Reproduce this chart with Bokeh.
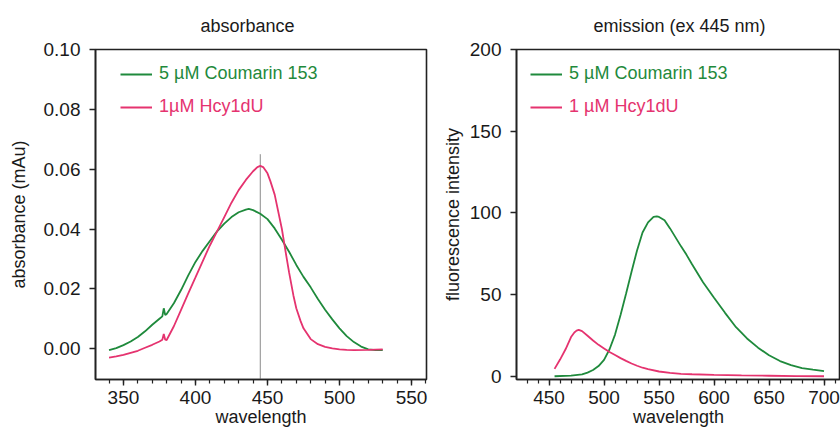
from bokeh.plotting import figure
from bokeh.layouts import row
from bokeh.models import FixedTicker, NumeralTickFormatter, Legend, LegendItem, Range1d, Title
from bokeh.embed import file_html
from bokeh.resources import INLINE

# ---------------- data ----------------
# absorbance panel
abs_c153_wl = [340, 345, 350, 355, 360, 365, 370, 375, 377, 378, 379, 380, 385, 390, 395,
               400, 405, 410, 415, 420, 425, 430, 435, 437, 440, 445, 450, 455, 460, 465,
               470, 475, 480, 485, 490, 495, 500, 505, 510, 515, 520, 525, 530]
abs_c153 = [-0.0005, 0.0002, 0.0012, 0.0024, 0.0039, 0.0058, 0.0080, 0.0100, 0.0108, 0.0135,
            0.0112, 0.0116, 0.0152, 0.0196, 0.0245, 0.0290, 0.0327, 0.0360, 0.0392, 0.0418,
            0.0440, 0.0456, 0.0465, 0.0467, 0.0463, 0.0451, 0.0433, 0.0402, 0.0364, 0.0324,
            0.0280, 0.0240, 0.0205, 0.0166, 0.0130, 0.0098, 0.0068, 0.0042, 0.0022, 0.0007,
            -0.0002, -0.0005, -0.0005]

abs_hcy_wl = [340, 345, 350, 355, 360, 365, 370, 375, 377, 378, 379, 380, 385, 390, 395,
              400, 405, 410, 415, 420, 425, 430, 435, 440, 443, 445, 447, 450, 452, 455,
              460, 463, 465, 468, 470, 473, 475, 480, 485, 490, 495, 500, 505, 510, 520, 530]
abs_hcy = [-0.0030, -0.0026, -0.0021, -0.0014, -0.0007, 0.0003, 0.0013, 0.0024, 0.0030, 0.0049,
           0.0030, 0.0029, 0.0075, 0.0130, 0.0185, 0.0238, 0.0292, 0.0345, 0.0392, 0.0440,
           0.0488, 0.0530, 0.0564, 0.0593, 0.0607, 0.0611, 0.0607, 0.0586, 0.0560, 0.0515,
           0.0400, 0.0312, 0.0255, 0.0178, 0.0135, 0.0092, 0.0068, 0.0032, 0.0015, 0.0006,
           0.0001, -0.0002, -0.0004, -0.0005, -0.0004, -0.0002]

excitation_wl = [445]
excitation_top = [0.065]

abs_x_ticks = [350, 400, 450, 500, 550]
abs_x_minor = [340, 350, 360, 370, 380, 390, 400, 410, 420, 430, 440, 450, 460, 470, 480,
               490, 500, 510, 520, 530, 540, 550, 560]
abs_y_ticks = [0.00, 0.02, 0.04, 0.06, 0.08, 0.10]

# emission panel
em_c153_wl = [455, 470, 480, 485, 490, 495, 500, 505, 510, 515, 520, 525, 530, 535, 540, 545,
              548, 550, 555, 560, 565, 570, 575, 580, 590, 600, 610, 620, 630, 640, 650, 660,
              670, 680, 690, 700]
em_c153 = [0.0, 0.4, 1.1, 2.2, 3.8, 6.2, 10.0, 16.5, 25.5, 37.5, 50.5, 64.0, 77.0, 88.0, 94.2,
           97.5, 97.8, 97.5, 95.5, 90.5, 85.0, 79.5, 74.3, 68.5, 57.5, 48.1, 38.8, 30.0, 23.1,
           17.5, 12.8, 9.3, 6.8, 5.0, 4.0, 3.1]

em_hcy_wl = [455, 460, 465, 470, 473, 475, 477, 480, 485, 490, 495, 500, 505, 510, 515, 520,
             525, 530, 535, 540, 550, 560, 570, 580, 600, 625, 650, 675, 700]
em_hcy = [4.5, 10.2, 16.5, 24.0, 26.8, 27.9, 28.4, 27.6, 24.8, 21.9, 19.2, 17.0, 14.8, 13.0,
          11.1, 9.4, 7.8, 6.4, 5.2, 4.3, 2.9, 2.0, 1.5, 1.2, 0.8, 0.5, 0.3, 0.1, 0.0]

em_x_ticks = [450, 500, 550, 600, 650, 700]
em_x_minor = [430, 440, 450, 460, 470, 480, 490, 500, 510, 520, 530, 540, 550, 560, 570, 580,
              590, 600, 610, 620, 630, 640, 650, 660, 670, 680, 690, 700, 710]
em_y_ticks = [0, 50, 100, 150, 200]

GREEN = "#1f8a3c"
PINK = "#e5336f"
FONT = "Liberation Sans"
FS = "18px"
TFS = "19px"
INK = "#1a1a1a"

FRAME_H = 330


def style(p):
    p.toolbar_location = None
    p.xgrid.visible = False
    p.ygrid.visible = False
    p.outline_line_color = "#222222"
    p.outline_line_width = 1.6
    p.background_fill_color = "white"
    p.border_fill_color = "white"
    for ax in (p.xaxis[0], p.yaxis[0]):
        ax.axis_line_color = "#222222"
        ax.axis_line_width = 1.6
        ax.major_tick_line_color = "#222222"
        ax.major_tick_line_width = 1.4
        ax.minor_tick_line_color = "#222222"
        ax.minor_tick_line_width = 1.2
        ax.major_tick_in = 0
        ax.minor_tick_in = 0
        ax.major_tick_out = 6
        ax.minor_tick_out = 4
        ax.major_label_text_font = FONT
        ax.major_label_text_font_size = TFS
        ax.major_label_text_color = INK
        ax.axis_label_text_font = FONT
        ax.axis_label_text_font_size = FS
        ax.axis_label_text_font_style = "normal"
        ax.axis_label_text_color = INK
    p.xaxis[0].major_label_standoff = 5
    p.xaxis[0].axis_label_standoff = 0
    p.yaxis[0].major_label_standoff = 9
    p.yaxis[0].minor_tick_out = 0


def add_legend(p, renderer, label, color, vx, vy):
    leg = Legend(items=[LegendItem(label=label, renderers=[renderer])],
                 location=(vx, vy), padding=0, margin=0, spacing=0,
                 glyph_width=32, glyph_height=20, label_height=20,
                 label_standoff=7, border_line_alpha=0, background_fill_alpha=0,
                 label_text_font=FONT, label_text_font_size=FS, label_text_color=color)
    p.add_layout(leg, "center")


# ---------------- absorbance ----------------
p1 = figure(frame_width=331, frame_height=FRAME_H, output_backend="svg", toolbar_location=None,
            x_range=Range1d(330.6, 560.4), y_range=Range1d(-0.0103, 0.10),
            min_border_left=95, min_border_right=10, min_border_top=47, min_border_bottom=20,
            x_axis_label="wavelength", y_axis_label="absorbance (mAu)")
p1.add_layout(Title(text="absorbance", align="left", offset=105, standoff=27,
                    text_font=FONT, text_font_size=FS, text_font_style="normal",
                    text_color=INK), "above")
style(p1)
p1.yaxis[0].axis_label_standoff = 12
p1.xaxis[0].ticker = FixedTicker(ticks=abs_x_ticks, minor_ticks=abs_x_minor)
p1.yaxis[0].ticker = FixedTicker(ticks=abs_y_ticks)
p1.yaxis[0].formatter = NumeralTickFormatter(format="0.00")

p1.segment(x0=excitation_wl, y0=[-0.0103], x1=excitation_wl, y1=excitation_top,
           line_color="#8a8a8a", line_width=1)
r1 = p1.line(abs_c153_wl, abs_c153, line_color=GREEN, line_width=1.8)
r2 = p1.line(abs_hcy_wl, abs_hcy, line_color=PINK, line_width=1.8)
add_legend(p1, r1, "5 \u00b5M Coumarin 153", GREEN, 25, FRAME_H - 35)
add_legend(p1, r2, "1\u00b5M Hcy1dU", PINK, 25, FRAME_H - 68)

# ---------------- emission ----------------
p2 = figure(frame_width=324, frame_height=FRAME_H, output_backend="svg", toolbar_location=None,
            x_range=Range1d(420.4, 715.0), y_range=Range1d(-2.0, 200.0),
            min_border_left=80, min_border_right=0, min_border_top=47, min_border_bottom=20,
            x_axis_label="wavelength", y_axis_label="fluorescence intensity")
p2.add_layout(Title(text="emission (ex 445 nm)", align="left", offset=77, standoff=27,
                    text_font=FONT, text_font_size=FS, text_font_style="normal",
                    text_color=INK), "above")
style(p2)
p2.yaxis[0].axis_label_standoff = 4
p2.xaxis[0].ticker = FixedTicker(ticks=em_x_ticks, minor_ticks=em_x_minor)
p2.yaxis[0].ticker = FixedTicker(ticks=em_y_ticks)

r3 = p2.line(em_c153_wl, em_c153, line_color=GREEN, line_width=1.8)
r4 = p2.line(em_hcy_wl, em_hcy, line_color=PINK, line_width=1.8)
add_legend(p2, r3, "5 \u00b5M Coumarin 153", GREEN, 14, FRAME_H - 35)
add_legend(p2, r4, "1 \u00b5M Hcy1dU", PINK, 14, FRAME_H - 68)

layout = row(p1, p2, spacing=0)

open("out.html", "w").write(file_html(layout, INLINE))
